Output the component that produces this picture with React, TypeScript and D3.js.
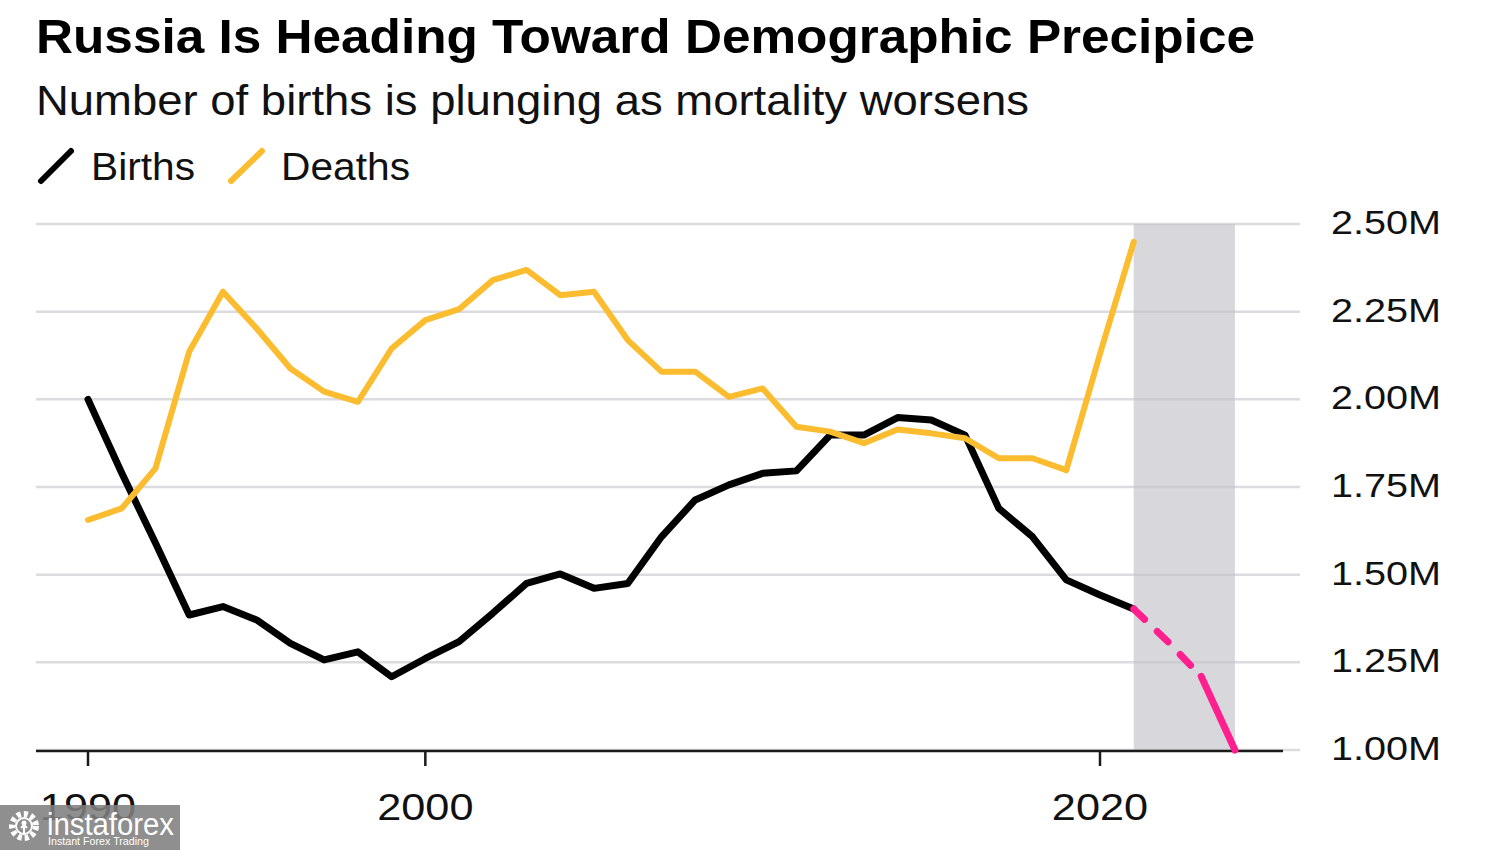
import React from "react";
import * as d3 from "d3";

// ---- Data (millions) ----
const years: number[] = d3.range(1990, 2022);
const births: number[] = [
  2.0, 1.79, 1.59, 1.385, 1.409, 1.371, 1.304, 1.257, 1.28, 1.209,
  1.261, 1.309, 1.39, 1.475, 1.502, 1.461, 1.475, 1.608, 1.713, 1.756,
  1.789, 1.796, 1.898, 1.898, 1.948, 1.941, 1.898, 1.689, 1.608, 1.485,
  1.442, 1.402,
];
const deaths: number[] = [
  1.656, 1.689, 1.803, 2.136, 2.307, 2.202, 2.088, 2.022, 1.993, 2.145,
  2.226, 2.257, 2.34, 2.369, 2.297, 2.307, 2.169, 2.079, 2.079, 2.007,
  2.031, 1.922, 1.908, 1.875, 1.914, 1.903, 1.889, 1.832, 1.832, 1.798,
  2.13, 2.449,
];
const projYears: number[] = [2021, 2022, 2023, 2024];
const projBirths: number[] = [1.402, 1.31, 1.21, 1.0];
const shadeRange: number[] = [2021, 2024];
const xTicks: number[] = [1990, 2000, 2020];
const yTicks: number[] = [1.0, 1.25, 1.5, 1.75, 2.0, 2.25, 2.5];

const TITLE = "Russia Is Heading Toward Demographic Precipice";
const SUBTITLE = "Number of births is plunging as mortality worsens";

const FONT = "'Liberation Sans', Arial, Helvetica, sans-serif";
const YELLOW = "#fbbd2f";
const PINK = "#ff1f8e";

export default function App() {
  const x = d3.scaleLinear().domain([1990, 2020]).range([88, 1100]);
  const y = d3.scaleLinear().domain([1.0, 2.5]).range([750, 224]);

  const line = d3
    .line<[number, number]>()
    .x((d) => x(d[0]))
    .y((d) => y(d[1]));

  const birthPts = years.map((yr, i) => [yr, births[i]] as [number, number]);
  const deathPts = years.map((yr, i) => [yr, deaths[i]] as [number, number]);
  const projPts = projYears.map((yr, i) => [yr, projBirths[i]] as [number, number]);
  const projDashed = projPts.slice(0, 3);
  const projSolid = projPts.slice(2);

  const gridX0 = 36;
  const gridX1 = 1300;
  const axisX1 = 1283;

  return (
    <svg
      width={1500}
      height={850}
      style={{ position: "absolute", left: 0, top: 0, display: "block", background: "#fff" }}
      fontFamily={FONT}
    >
      <rect x={0} y={0} width={1500} height={850} fill="#ffffff" />

      {/* Title & subtitle */}
      <text x={36} y={53} fontSize={48} fontWeight={700} fill="#000" textLength={1219} lengthAdjust="spacingAndGlyphs">
        {TITLE}
      </text>
      <text x={36} y={115} fontSize={42} fill="#111" textLength={993} lengthAdjust="spacingAndGlyphs">
        {SUBTITLE}
      </text>

      {/* Legend */}
      <line x1={41} y1={181} x2={71} y2={151} stroke="#000" strokeWidth={6} strokeLinecap="round" />
      <text x={91} y={180} fontSize={39} fill="#111" textLength={104} lengthAdjust="spacingAndGlyphs">
        Births
      </text>
      <line x1={231} y1={181} x2={262} y2={151} stroke={YELLOW} strokeWidth={6} strokeLinecap="round" />
      <text x={281} y={180} fontSize={39} fill="#111" textLength={129} lengthAdjust="spacingAndGlyphs">
        Deaths
      </text>

      {/* Gridlines */}
      {yTicks.map((t) => (
        <line key={"g" + t} x1={gridX0} x2={gridX1} y1={y(t)} y2={y(t)} stroke="#dcdbdf" strokeWidth={2.5} />
      ))}

      {/* Projection shade */}
      <rect
        x={x(shadeRange[0])}
        y={y(2.5)}
        width={x(shadeRange[1]) - x(shadeRange[0])}
        height={y(1.0) - y(2.5)}
        fill="rgb(196,194,200)"
        opacity={0.66}
      />

      {/* Y labels */}
      {yTicks.map((t) => (
        <g key={"yl" + t} transform={`translate(1331,${y(t) + 10}) scale(1.2,1)`}>
          <text x={0} y={0} fontSize={33} fill="#111">
            {d3.format(".2f")(t) + "M"}
          </text>
        </g>
      ))}

      {/* Baseline axis */}
      <line x1={gridX0} x2={axisX1} y1={y(1.0) + 1} y2={y(1.0) + 1} stroke="#1a1a1a" strokeWidth={2.5} />
      {xTicks.map((t) => (
        <g key={"xt" + t}>
          <line x1={x(t)} x2={x(t)} y1={y(1.0)} y2={y(1.0) + 16} stroke="#1a1a1a" strokeWidth={2.5} />
          <g transform={`translate(${x(t)},820) scale(1.17,1)`}>
            <text x={0} y={0} fontSize={37} fill="#111" textAnchor="middle">
              {t}
            </text>
          </g>
        </g>
      ))}

      {/* Lines */}
      <path d={line(birthPts) || ""} fill="none" stroke="#000" strokeWidth={7} strokeLinejoin="round" strokeLinecap="round" />
      <path d={line(deathPts) || ""} fill="none" stroke={YELLOW} strokeWidth={6} strokeLinejoin="round" strokeLinecap="round" />
      <path
        d={line(projDashed) || ""}
        fill="none"
        stroke={PINK}
        strokeWidth={7}
        strokeLinecap="round"
        strokeLinejoin="round"
        strokeDasharray="15 17.5"
      />
      <path d={line(projSolid) || ""} fill="none" stroke={PINK} strokeWidth={7} strokeLinecap="round" strokeLinejoin="round" />

      {/* Watermark */}
      <g>
        <rect x={0} y={805} width={180} height={45} fill="#808080" opacity={0.88} />
        <g transform="translate(24,826)" fill="none" stroke="#fff">
          <circle r={12} strokeWidth={6} strokeDasharray="4 3" />
          <circle r={8} strokeWidth={2} />
          <circle cx={0} cy={-3} r={2.5} fill="#fff" stroke="none" />
          <path d="M-3,2 L0,-1 L3,2 M0,-1 L0,9" strokeWidth={2} />
        </g>
        <text x={47} y={835} fontSize={31} fill="#fff" fontWeight={300} textLength={127} lengthAdjust="spacingAndGlyphs">
          instaforex
        </text>
        <text x={48} y={845} fontSize={10.5} fill="#fff" textLength={101} lengthAdjust="spacingAndGlyphs">
          Instant Forex Trading
        </text>
      </g>
    </svg>
  );
}
